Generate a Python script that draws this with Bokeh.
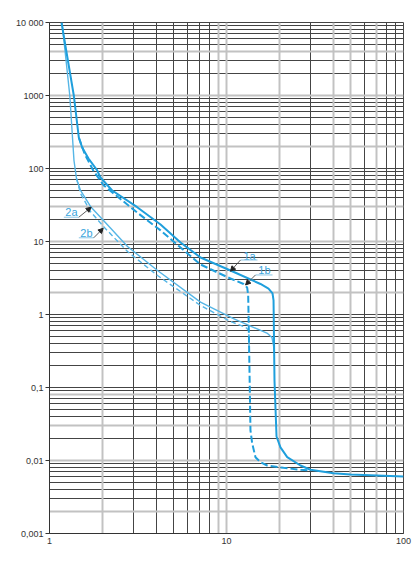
from bokeh.plotting import figure
from bokeh.models import FixedTicker, Grid, Label, Arrow, NormalHead
from bokeh.embed import file_html
from bokeh.resources import INLINE

# ---- data (multiples of setting current Ir, time in seconds) ----
c1a_x = [1.169, 1.372, 1.464, 1.530, 1.661, 1.860, 1.941, 2.261, 3.13, 4.24, 5.50, 7.13,
         10.53, 15.56, 17.27, 18.2, 18.44, 18.67, 19.17, 20.18, 22.03, 26.18, 29.84, 40.2, 50.2, 100]
c1a_y = [10000, 1000, 266, 194, 137, 94, 75.3, 50, 29.5, 17.1, 9.69, 6.04,
         4.01, 2.62, 2.27, 1.94, 1.56, 0.125, 0.0213, 0.0151, 0.0111, 0.00854, 0.00746, 0.0067, 0.00643, 0.00604]

c1b_x = [1.464, 1.577, 1.766, 2.027, 3.13, 4.24, 7.13, 10.53, 12.48, 13.09, 13.26, 13.40,
         13.66, 13.97, 14.58, 15.56, 16.98, 21.0, 26.18, 29.84]
c1b_y = [266, 160, 94, 58.5, 24.9, 14.2, 4.84, 3.11, 2.62, 2.34, 1.82, 0.441,
         0.0258, 0.0171, 0.0111, 0.00947, 0.00854, 0.00794, 0.00746, 0.0073]

c2a_x = [1.177, 1.302, 1.375, 1.421, 1.497, 1.704, 2.019, 2.759, 4.076, 7.13, 10.95, 17.05, 18.07, 18.44, 18.59]
c2a_y = [10000, 1000, 128.8, 72.9, 50, 30.2, 19.4, 8.54, 4.01, 1.48, 0.881, 0.550, 0.484, 0.376, 0.3]

c2b_x = [1.421, 1.497, 1.704, 2.019, 2.759, 4.076, 7.13, 10.53, 12.81, 13.36, 13.43]
c2b_y = [72.9, 45.5, 25.8, 16.0, 7.29, 3.42, 1.33, 0.802, 0.670, 0.604, 0.3]

x_ticks = [1, 10, 100]
x_tick_labels = ["1", "10", "100"]
y_ticks = [0.001, 0.01, 0.1, 1, 10, 100, 1000, 10000]
y_tick_labels = ["0,001", "0,01", "0,1", "1", "10", "100", "1000", "10 000"]

x_grid_dark = [3, 4, 5, 6, 7, 8, 30, 60, 80, 90]
x_grid_light = [2, 9, 10, 20, 40, 50, 70]
y_grid_all = [m * 10.0 ** k for k in range(-3, 4) for m in range(1, 10)][1:]
y_grid_light = [4000, 1000, 200, 30, 10, 2, 0.08, 0.03, 0.01, 0.002]
y_grid_dark = [v for v in y_grid_all if not any(abs(v - g) / g < 1e-6 for g in y_grid_light)]

FONT = "Liberation Sans"
DARK = "#1f9fdc"
LIGHT = "#56b6e6"

p = figure(width=415, height=566, x_axis_type="log", y_axis_type="log",
           x_range=(1, 100), y_range=(0.001, 10000),
           output_backend="svg", toolbar_location=None,
           min_border_left=49, min_border_right=12, min_border_top=22, min_border_bottom=33)
p.background_fill_color = "white"
p.outline_line_color = "#444444"
p.outline_line_width = 1

# grids
p.xgrid.ticker = FixedTicker(ticks=x_grid_dark)
p.ygrid.ticker = FixedTicker(ticks=y_grid_dark)
for g in (p.xgrid, p.ygrid):
    g.grid_line_color = "#444444"
    g.grid_line_width = 1
    g.grid_line_alpha = 1
p.add_layout(Grid(dimension=0, ticker=FixedTicker(ticks=x_grid_light),
                  grid_line_color="#c2c2c2", grid_line_width=2))
p.add_layout(Grid(dimension=1, ticker=FixedTicker(ticks=y_grid_light),
                  grid_line_color="#c2c2c2", grid_line_width=2))

# axes
p.xaxis.ticker = FixedTicker(ticks=x_ticks)
p.xaxis.major_label_overrides = {float(t): l for t, l in zip(x_ticks, x_tick_labels)}
p.yaxis.ticker = FixedTicker(ticks=y_ticks)
p.yaxis.major_label_overrides = {float(t): l for t, l in zip(y_ticks, y_tick_labels)}
for ax in (p.xaxis, p.yaxis):
    ax.axis_line_color = "#333333"
    ax.major_tick_line_color = "#333333"
    ax.minor_tick_line_color = None
    ax.major_tick_in = 0
    ax.major_label_text_font = FONT
    ax.major_label_text_font_size = "9px"
    ax.major_label_text_color = "#333333"
p.yaxis.major_tick_out = 4
p.yaxis.major_label_standoff = 2
p.xaxis.major_tick_out = 0
p.xaxis.major_label_standoff = 4

# curves
p.line(c2a_x, c2a_y, line_color=LIGHT, line_width=1.4)
p.line(c2b_x, c2b_y, line_color=LIGHT, line_width=1.4, line_dash="5 3")
p.line(c1a_x, c1a_y, line_color=DARK, line_width=2)
p.line(c1b_x, c1b_y, line_color=DARK, line_width=2, line_dash="7 3")

# curve labels with leaders
labels = [("1a", 13.49, 6.43, (12.0, 14.97, 5.58), (12.0, 5.58, 10.53, 3.92)),
          ("1b", 16.39, 4.01, (14.58, 18.2, 3.48), (14.58, 3.48, 12.81, 2.54)),
          ("2a", 1.331, 25.4, (1.205, 1.464, 21.5), (1.464, 21.5, 1.72, 29.5)),
          ("2b", 1.618, 13.07, (1.464, 1.779, 11.24), (1.779, 11.24, 2.011, 15.2))]
for txt, lx, ly, ul, ld in labels:
    p.add_layout(Label(x=lx, y=ly, text=txt, text_align="center", text_baseline="middle",
                       text_font=FONT, text_font_size="11px", text_color="#3aa5dd"))
    p.add_layout(Arrow(end=None, x_start=ul[0], y_start=ul[2], x_end=ul[1], y_end=ul[2],
                       line_color="#8cc6e6", line_width=1))
    p.add_layout(Arrow(end=NormalHead(size=5, fill_color="#222222", line_color="#222222"),
                       x_start=ld[0], y_start=ld[1], x_end=ld[2], y_end=ld[3],
                       line_color="#333333", line_width=0.8))

# axis titles
p.add_layout(Label(x=0.594, y=14150, text="Time (s)", text_align="left", text_baseline="middle",
                   text_font=FONT, text_font_size="8px", text_color="#333333"))
p.add_layout(Label(x=87.8, y=0.000567, text="x the setting current (Ir)", text_align="right",
                   text_baseline="middle", text_font=FONT, text_font_size="8px", text_color="#333333"))

open("out.html", "w").write(file_html(p, INLINE))
